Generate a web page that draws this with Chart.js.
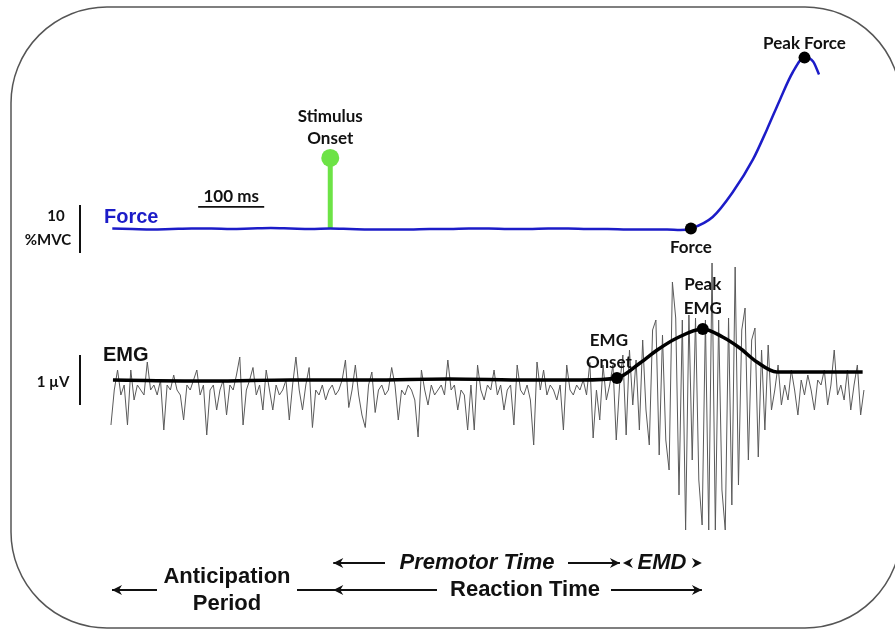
<!DOCTYPE html>
<html>
<head>
<meta charset="utf-8">
<script src="https://cdn.jsdelivr.net/npm/chart.js@4/dist/chart.umd.min.js"></script>
<style>
  html, body { margin: 0; padding: 0; background: #fff; }
  canvas { display: block; }
</style>
</head>
<body>
<canvas id="trace" width="895" height="630"></canvas>
<script>
// time axis in ms, stimulus onset = 0
const forceTimes = [-330, -300, -270, -240, -210, -180, -150, -120, -90, -60,
  -30, 0, 30, 60, 90, 120, 150, 180, 210, 240,
  270, 300, 330, 360, 390, 420, 450, 480, 510, 530,
  546, 579, 609, 640, 661, 681, 700, 718, 731, 740];
// force in %MVC
const forceValues = [0.1, 0.0, -0.1, 0.0, 0.1, 0.1, 0.0, 0.1, 0.2, 0.1,
  0.0, 0.1, 0.0, -0.1, -0.1, -0.1, 0.0, 0.0, 0.1, 0.1,
  0.0, 0.0, 0.1, 0.1, 0.0, 0.0, -0.1, -0.1, -0.1, -0.2,
  0.1, 2.5, 7.6, 14.5, 20.7, 27, 32.6, 35.7, 34.9, 32.2];

const stimTime = 0;
const stimHeight = 14.8;
const forceOnset = [546, 0.1];
const peakForce = [718, 35.7];

// EMG envelope (µV)
const envTimes = [-329, -180, -60, 60, 180, 300, 380, 434, 469, 495,
  525, 564, 594, 620, 646, 676, 700, 806];
const envValues = [0.0, -0.02, 0.0, 0.0, 0.02, 0.0, 0.0, 0.04, 0.34, 0.6,
  0.84, 1.02, 0.86, 0.64, 0.36, 0.16, 0.16, 0.16];
const emgOnset = [434, 0.04];
const peakEmg = [564, 1.02];

// raw EMG (µV), one sample every 5 ms from -332 ms
const emgStart = -332;
const emgStep = 5;
const emgRaw = [
  // quiet, before stimulus
  -0.9, -0.2, 0.2, -0.3, -0.1, -0.9, 0.2, -0.4, -0.1, -0.2,
  -0.3, 0.36, -0.2, -0.1, -0.3, 0.0, -1.0, -0.1, -0.2, 0.1,
  -0.2, -0.3, -0.8, -0.1, -0.2, 0.0, 0.2, -0.3, -0.1, -1.1,
  -0.2, -0.1, -0.6, -0.2, 0.0, -0.7, -0.1, -0.2, 0.1, 0.46,
  -0.9, -0.2, 0.0, 0.25, -0.3, -0.1, -0.6, 0.2, -0.2, -0.6,
  -0.1, -0.3, -0.2, 0.0, -0.8, -0.1, 0.46, -0.2, -0.6, -0.1,
  0.25, -0.95, -0.2, -0.3, -0.1, -0.4, -0.2, -0.1, -0.3, -0.2,
  0.0, 0.4, -0.55, -0.2, 0.3, -0.3,
  // premotor period
  -0.7, -0.95, -0.1, 0.16, -0.65, -0.2, -0.1, -0.3, -0.2, 0.25,
  -0.1, -0.8, -0.2, -0.3, -0.1, -0.2, -0.4, -1.14, 0.2, -0.2,
  -0.5, -0.1, -0.3, -0.2, -0.1, -0.3, 0.4, -0.2, -0.1, -0.6,
  -0.2, -0.3, -1.0, -0.1, -1.0, 0.3, -0.2, -0.4, -0.1, -0.2,
  0.2, -0.3, -0.1, -0.6, -0.2, -0.1, -0.9, 0.3, -0.2, -0.3,
  -0.1, -0.4, -1.3, 0.36, -0.2, 0.2, -0.3, -0.1, -0.2, -0.4,
  -0.1, -1.0, 0.3, -0.2, -0.3, -0.1, -0.2, 0.0, -0.3, 0.35,
  -1.16, -0.2, -0.8, 0.3, -0.4, -0.1,
  // burst
  0.3, -1.2, -0.1, 0.5, -1.1, 0.6, -0.5, 0.4, -1.0, 0.8,
  -0.6, -1.3, 1.0, 1.2, -1.5, 0.9, -1.2, -1.8, 1.96, 1.24,
  -2.3, 1.2, -3.0, 1.3, -1.6, 1.24, -2.0, -2.9, 1.2, -3.0,
  2.34, -3.0, 1.2, -2.2, -3.0, 1.24, -2.5, 2.26, -2.1, 1.0,
  1.44, -1.6, 0.8, 1.04, -1.54, 0.6, -1.0, 0.7, -0.6, -0.2,
  0.3, -0.5,
  // after burst
  -0.1, -0.4, 0.2, -0.2, -0.7, 0.0, -0.3, 0.1, -0.2, -0.6,
  0.0, -0.1, 0.2, -0.5, -0.1, 0.6, -0.3, -0.1, -0.4, 0.2,
  -0.6, -0.1, 0.3, -0.7, -0.2
];

const pts = (xs, ys) => xs.map((x, i) => ({ x: x, y: ys[i] }));

const frame = {
  id: 'frame',
  beforeDraw(chart) {
    const ctx = chart.ctx;
    ctx.save();
    ctx.fillStyle = '#fff';
    ctx.fillRect(0, 0, chart.width, chart.height);
    ctx.strokeStyle = '#555';
    ctx.lineWidth = 1.5;
    ctx.beginPath();
    ctx.roundRect(11, 7, 890, 621, 96);
    ctx.stroke();
    ctx.restore();
  }
};

const annotate = {
  id: 'annotate',
  afterDatasetsDraw(chart) {
    const { ctx, scales } = chart;
    const X = t => scales.x.getPixelForValue(t);
    const YF = v => scales.yF.getPixelForValue(v);
    const YE = v => scales.yE.getPixelForValue(v);
    const small = 'bold 17px Lato, "Open Sans", sans-serif';
    const unit = 'bold 15px Lato, "Open Sans", sans-serif';
    const big = 'bold 20px "Liberation Sans", Arial, sans-serif';
    const bottom = 'bold 22px "Liberation Sans", Arial, sans-serif';
    const bottomIt = 'italic bold 22px "Liberation Sans", Arial, sans-serif';

    function text(s, x, y, font, color, align) {
      ctx.font = font;
      ctx.fillStyle = color || '#111';
      ctx.textAlign = align || 'center';
      ctx.fillText(s, x, y);
    }
    function line(x1, y1, x2, y2, w) {
      ctx.lineWidth = w || 2;
      ctx.beginPath();
      ctx.moveTo(x1, y1);
      ctx.lineTo(x2, y2);
      ctx.stroke();
    }
    function head(x, y, dir) {
      ctx.beginPath();
      ctx.moveTo(x, y);
      ctx.lineTo(x - dir * 10, y - 5);
      ctx.lineTo(x - dir * 7, y);
      ctx.lineTo(x - dir * 10, y + 5);
      ctx.closePath();
      ctx.fill();
    }

    ctx.save();
    ctx.textBaseline = 'middle';
    ctx.strokeStyle = '#111';

    // marker labels
    text('Peak Force', X(peakForce[0]), YF(peakForce[1]) - 14, small);
    text('Force', X(forceOnset[0]), YF(forceOnset[1]) + 19, small);
    text('Stimulus', X(stimTime), YF(stimHeight) - 41, small);
    text('Onset', X(stimTime), YF(stimHeight) - 19, small);
    text('Peak', X(peakEmg[0]), YE(peakEmg[1]) - 44, small);
    text('EMG', X(peakEmg[0]), YE(peakEmg[1]) - 20, small);
    text('EMG', X(emgOnset[0]) - 8, YE(emgOnset[1]) - 37, small);
    text('Onset', X(emgOnset[0]) - 8, YE(emgOnset[1]) - 15, small);

    // trace names
    text('Force', 104, YF(0) - 12, big, '#1c1cc8', 'left');
    text('EMG', 103, YE(0) - 25, big, '#111', 'left');

    // 100 ms scale bar
    text('100 ms', (X(-200) + X(-100)) / 2, YF(6.8), small);
    line(X(-200), YF(4.6), X(-100), YF(4.6), 1.8);

    // amplitude scale bars
    line(80, YF(-5), 80, YF(5), 2);
    text('10', 56, YF(2.6), unit);
    text('%MVC', 48, YF(-2.3), unit);
    line(80, YE(-0.5), 80, YE(0.5), 2);
    text('1 \u00b5V', 53, YE(-0.04), unit);

    // bottom periods
    ctx.fillStyle = '#111';
    const xs = X(stimTime);
    const xe = X(emgOnset[0]);
    const xf = X(forceOnset[0]);
    const r1 = 563, r2 = 590;
    line(xs + 3, r1, 385, r1, 1.8);
    head(xs + 3, r1, -1);
    text('Premotor Time', 477, r1, bottomIt);
    line(568, r1, xe + 3, r1, 1.8);
    head(xe + 3, r1, 1);
    head(xe + 6, r1, -1);
    text('EMD', 662, r1, bottomIt);
    head(xf + 11, r1, 1);

    text('Anticipation', 227, r2 - 13, bottom);
    text('Period', 227, r2 + 14, bottom);
    line(112, r2, 157, r2, 1.8);
    head(112, r2, -1);
    line(297, r2, 437, r2, 1.8);
    head(xs + 3, r2, -1);
    text('Reaction Time', 525, r2, bottom);
    line(611, r2, xf + 11, r2, 1.8);
    head(xf + 11, r2, 1);
    ctx.restore();
  }
};

new Chart(document.getElementById('trace'), {
  type: 'line',
  data: {
    datasets: [
      {
        data: pts(forceTimes, forceValues),
        yAxisID: 'yF',
        borderColor: '#1c1cc8',
        borderWidth: 2.5,
        pointRadius: 0,
        cubicInterpolationMode: 'monotone',
        order: 3
      },
      {
        data: [{ x: stimTime, y: 0 }, { x: stimTime, y: stimHeight }],
        yAxisID: 'yF',
        borderColor: '#6de346',
        borderWidth: 5,
        borderCapStyle: 'butt',
        pointRadius: [0, 9],
        pointBackgroundColor: '#6de346',
        pointBorderWidth: 0,
        order: 4
      },
      {
        data: [{ x: forceOnset[0], y: forceOnset[1] }, { x: peakForce[0], y: peakForce[1] }],
        yAxisID: 'yF',
        showLine: false,
        pointRadius: 6,
        pointBackgroundColor: '#000',
        pointBorderWidth: 0,
        order: 1
      },
      {
        data: emgRaw.map((v, i) => ({ x: emgStart + i * emgStep, y: v })),
        yAxisID: 'yE',
        borderColor: '#5a5a5a',
        borderWidth: 1,
        pointRadius: 0,
        tension: 0,
        order: 6
      },
      {
        data: pts(envTimes, envValues),
        yAxisID: 'yE',
        borderColor: '#000',
        borderWidth: 3.5,
        pointRadius: 0,
        cubicInterpolationMode: 'monotone',
        order: 2
      },
      {
        data: [{ x: emgOnset[0], y: emgOnset[1] }, { x: peakEmg[0], y: peakEmg[1] }],
        yAxisID: 'yE',
        showLine: false,
        pointRadius: 6,
        pointBackgroundColor: '#000',
        pointBorderWidth: 0,
        order: 1
      }
    ]
  },
  options: {
    responsive: false,
    animation: false,
    events: [],
    layout: { padding: 0, autoPadding: false },
    plugins: { legend: { display: false }, tooltip: { enabled: false } },
    scales: {
      x: { type: 'linear', min: -500, max: 855, display: false },
      yF: { type: 'linear', min: -83.5, max: 47.7, display: false },
      yE: { type: 'linear', min: -5, max: 7.6, display: false }
    }
  },
  plugins: [frame, annotate]
});
</script>
</body>
</html>
